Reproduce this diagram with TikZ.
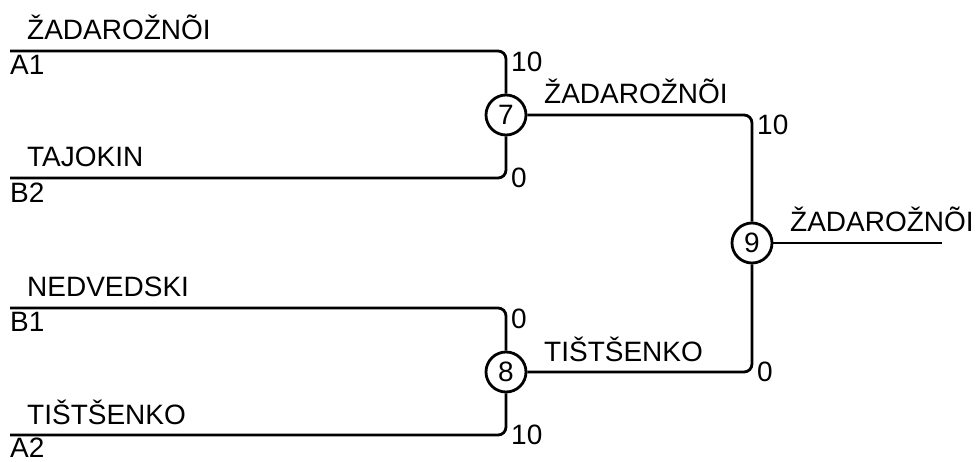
\documentclass[tikz,border=0pt]{standalone}
\usepackage{fontspec}
\setmainfont{Liberation Sans}
\usetikzlibrary{positioning,calc}
\tikzstyle{line} = [draw, line width=2.8pt, rounded corners=8pt]
\tikzstyle{match} = [draw, circle, line width=2.8pt, minimum size=40pt, inner sep=0pt]
\tikzstyle{team} = [anchor=base west, inner sep=0pt]
\tikzstyle{seed} = [anchor=north west, inner sep=0pt]
\tikzstyle{score} = [inner sep=0pt]

\begin{document}
\begin{tikzpicture}[x=1pt, y=-1pt, font=\fontsize{28}{32}\selectfont]
        \useasboundingbox (0,0) rectangle (980,462);
        % entrants
        \coordinate (a1) at (10,51);
        \coordinate (b2) at (10,178);
        \coordinate (b1) at (10,308);
        \coordinate (a2) at (10,435);
        % matches
        \node[match] (m7) at (506,115) {7};
        \node[match] (m8) at (506,372) {8};
        \node[match] (m9) at (752,243) {9};
        \coordinate (fin) at (942,243);
        \path[line] (a1) -| (m7);
        \path[line] (b2) -| (m7);
        \path[line] (b1) -| (m8);
        \path[line] (a2) -| (m8);
        \path[line] (m7) -| (m9);
        \path[line] (m8) -| (m9);
        \path[line] (m9) -- (fin);
        % names above the lines
        \node[team] (n1) at ($(a1)+(17,-11)$) {ŽADAROŽNÕI};
        \node[team] (n2) at ($(b2)+(17,-11)$) {TAJOKIN};
        \node[team] (n3) at ($(b1)+(17,-11)$) {NEDVEDSKI};
        \node[team] (n4) at ($(a2)+(17,-11)$) {TIŠTŠENKO};
        \node[team] (n7) at ($(m7)+(38,-11)$) {ŽADAROŽNÕI};
        \node[team] (n8) at ($(m8)+(38,-11)$) {TIŠTŠENKO};
        \node[team] (n9) at ($(m9)+(38,-11)$) {ŽADAROŽNÕI};
        % seeds below the lines
        \node[seed] (s1) at ($(a1)+(0,4)$) {A1};
        \node[seed] (s2) at ($(b2)+(0,5)$) {B2};
        \node[seed] (s3) at ($(b1)+(0,4)$) {B1};
        \node[seed] (s4) at ($(a2)+(0,3)$) {A2};
        % scores
        \node[score, anchor=north west] (p1) at ($(m7 |- a1)+(5,1)$) {10};
        \node[score, anchor=west] (p2) at ($(m7 |- b2)+(5,0)$) {0};
        \node[score, anchor=north west] (p3) at ($(m8 |- b1)+(5,1)$) {0};
        \node[score, anchor=west] (p4) at ($(m8 |- a2)+(5,0)$) {10};
        \node[score, anchor=north west] (p7) at ($(m9 |- m7)+(5,0)$) {10};
        \node[score, anchor=west] (p8) at ($(m9 |- m8)+(5,0)$) {0};
    \end{tikzpicture}
\end{document}
